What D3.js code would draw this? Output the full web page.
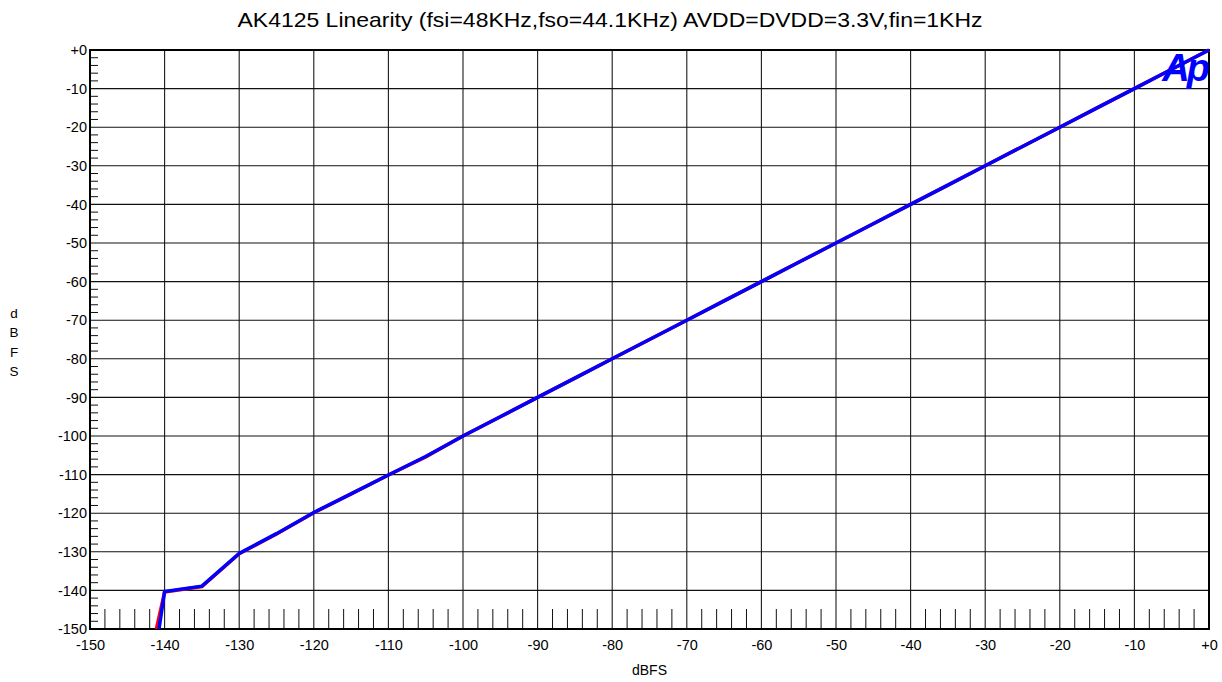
<!DOCTYPE html>
<html><head><meta charset="utf-8">
<script src="https://cdn.jsdelivr.net/npm/d3@7"></script>
<style>body{margin:0;background:#fff}svg{display:block}text{font-family:"Liberation Sans",Arial,sans-serif}</style>
</head><body>
<script>
const chartTitle = "AK4125 Linearity (fsi=48KHz,fso=44.1KHz) AVDD=DVDD=3.3V,fin=1KHz";
const xTicks = [-150,-140,-130,-120,-110,-100,-90,-80,-70,-60,-50,-40,-30,-20,-10,0];
const yTicks = [0,-10,-20,-30,-40,-50,-60,-70,-80,-90,-100,-110,-120,-130,-140,-150];
const redIn  = [-141.1,-140,-135,-130,-125,-120,-115,-110,-105,-100,-95,-90,-85,-80,-75,-70,-65,-60,-55,-50,-45,-40,-35,-30,-25,-20,-15,-10,-5,0];
const redOut = [-150,-140.4,-139.0,-130.5,-125.4,-119.9,-115.0,-110.1,-105.4,-100.0,-95.0,-90.0,-85.0,-80.0,-75.0,-70.0,-65.0,-60.0,-55.0,-50.0,-45.0,-40.0,-35.0,-30.0,-25.0,-20.0,-15.0,-10.0,-5.0,0];
const blueIn  = [-140.75,-140,-135,-130,-125,-120,-115,-110,-105,-100,-95,-90,-85,-80,-75,-70,-65,-60,-55,-50,-45,-40,-35,-30,-25,-20,-15,-10,-5,0];
const blueOut = [-150,-140.3,-138.9,-130.4,-125.3,-119.8,-115.0,-110.1,-105.3,-100.0,-95.0,-90.0,-85.0,-80.0,-75.0,-70.0,-65.0,-60.0,-55.0,-50.0,-45.0,-40.0,-35.0,-30.0,-25.0,-20.0,-15.0,-10.0,-5.0,0];

const W = 1222, H = 682;
const L = 90, R = 1209, T = 50, B = 629;
const svg = d3.select("body").append("svg").attr("width", W).attr("height", H);
const x = d3.scaleLinear().domain([-150, 0]).range([L, R]);
const y = d3.scaleLinear().domain([-150, 0]).range([B, T]);
const fmt = v => v === 0 ? "+0" : String(v);

// grid
const g = svg.append("g");
g.selectAll(".vg").data(xTicks).join("line")
  .attr("x1", d => x(d)).attr("x2", d => x(d)).attr("y1", T).attr("y2", B)
  .attr("stroke", "#1a1a1a").attr("stroke-width", 1.1);
g.selectAll(".hg").data(yTicks).join("line")
  .attr("y1", d => y(d)).attr("y2", d => y(d)).attr("x1", L).attr("x2", R)
  .attr("stroke", "#111").attr("stroke-width", 1.1);

// minor ticks
const minor = d3.range(-150, 0.1, 2).filter(v => v % 10 !== 0);
g.selectAll(".ym").data(minor).join("line")
  .attr("x1", L).attr("x2", L + 8).attr("y1", d => y(d)).attr("y2", d => y(d))
  .attr("stroke", "#111").attr("stroke-width", 1);
g.selectAll(".xm").data(minor).join("line")
  .attr("x1", d => x(d)).attr("x2", d => x(d)).attr("y1", B).attr("y2", B - 20)
  .attr("stroke", "#111").attr("stroke-width", 1);

// frame
svg.append("rect").attr("x", L).attr("y", T).attr("width", R - L).attr("height", B - T)
  .attr("fill", "none").attr("stroke", "#000").attr("stroke-width", 2);

// axes labels via d3 axes (no lines)
const xa = svg.append("g").attr("transform", `translate(0,${B})`)
  .call(d3.axisBottom(x).tickValues(xTicks).tickFormat(fmt).tickSize(0).tickPadding(11));
xa.select(".domain").remove();
xa.selectAll("text").attr("font-size", 14.5).attr("fill", "#000").attr("font-family", "Liberation Sans, Arial, sans-serif");
const ya = svg.append("g").attr("transform", `translate(${L},0)`)
  .call(d3.axisLeft(y).tickValues(yTicks).tickFormat(fmt).tickSize(0).tickPadding(3));
ya.select(".domain").remove();
ya.selectAll("text").attr("font-size", 14.5).attr("fill", "#000").attr("font-family", "Liberation Sans, Arial, sans-serif");

// titles
svg.append("text").attr("x", 610).attr("y", 27).attr("text-anchor", "middle")
  .attr("font-size", 21).attr("textLength", 745).attr("lengthAdjust", "spacingAndGlyphs").text(chartTitle);
svg.append("text").attr("x", (L + R) / 2).attr("y", 675).attr("text-anchor", "middle")
  .attr("font-size", 14).text("dBFS");
["d","B","F","S"].forEach((c, i) => {
  svg.append("text").attr("x", 14).attr("y", 318 + i * 19.3).attr("text-anchor", "middle")
    .attr("font-size", 13.5).text(c);
});

// data lines
svg.append("clipPath").attr("id", "pc").append("rect")
  .attr("x", L).attr("y", T - 3).attr("width", R - L + 3).attr("height", B - T + 3);
const line = d3.line().x(d => x(d[0])).y(d => y(d[1]));
const lg = svg.append("g").attr("clip-path", "url(#pc)");
lg.append("path").datum(redIn.map((v, i) => [v, redOut[i]])).attr("d", line)
  .attr("fill", "none").attr("stroke", "#ff0000").attr("stroke-width", 3.5);
lg.append("path").datum(blueIn.map((v, i) => [v, blueOut[i]])).attr("d", line)
  .attr("fill", "none").attr("stroke", "#0000ff").attr("stroke-width", 3.5);

// Ap logo
svg.append("text").attr("x", 1207).attr("y", 81).attr("text-anchor", "end")
  .attr("font-size", 38).attr("font-weight", "bold").attr("font-style", "italic")
  .attr("fill", "#0000ff").attr("letter-spacing", -3).text("Ap");
</script>
</body></html>
